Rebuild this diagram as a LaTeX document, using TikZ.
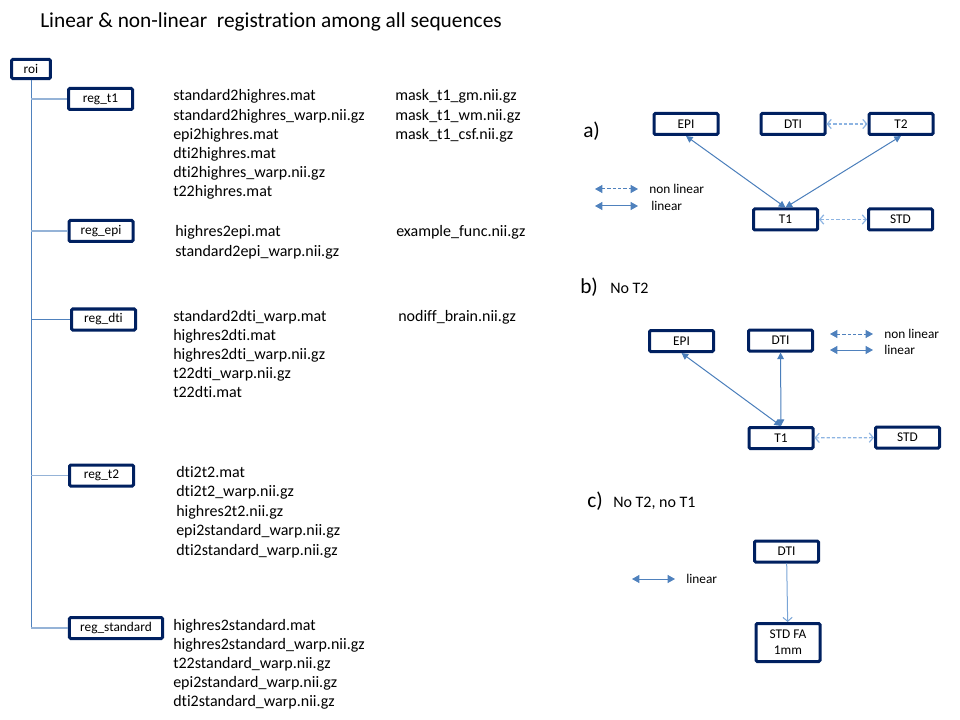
\documentclass[tikz,border=0pt]{standalone}
\usepackage{fontspec}
\setmainfont{Carlito}[Ligatures=NoCommon]
\usepackage{tikz}
\usetikzlibrary{arrows.meta, positioning}
\definecolor{navy}{RGB}{0,32,96}
\definecolor{linblue}{RGB}{74,126,187}
\definecolor{dashblue}{RGB}{141,180,226}
\definecolor{treeblue}{RGB}{79,129,189}
\definecolor{branchblue}{RGB}{149,179,215}
\tikzset{%
	box/.style={draw=navy, line width=2.25pt, rounded corners=1pt, inner sep=0pt,%
		minimum width=48pt, minimum height=15.75pt, font=\fontsize{10}{12}\selectfont},
	fname/.style={anchor=base west, inner sep=0pt, font=\fontsize{12}{14.5}\selectfont},
	legtext/.style={anchor=west, inner sep=0pt, font=\fontsize{10}{12}\selectfont},
	panel/.style={anchor=base west, inner sep=0pt, font=\fontsize{16}{19}\selectfont},
	subtitle/.style={anchor=base west, inner sep=0pt, font=\fontsize{12}{14.5}\selectfont},
	tree/.style={draw=treeblue, line width=0.75pt},
	branch/.style={draw=branchblue, line width=0.9pt},
	lin/.style={linblue, line width=0.75pt, {Triangle[length=5pt,width=5pt]}-{Triangle[length=5pt,width=5pt]}},
	nonlin/.style={dashblue, line width=0.9pt, dash pattern=on 2.5pt off 1.5pt,%
		{Straight Barb[length=3pt,width=7pt]}-{Straight Barb[length=3pt,width=7pt]}},
	leglin/.style={treeblue, line width=0.75pt, {Triangle[length=5.5pt,width=6pt]}-{Triangle[length=5.5pt,width=6pt]}},
	legnonlin/.style={leglin, dash pattern=on 2.5pt off 1.5pt}
}

\begin{document}
\begin{tikzpicture}[x=0.75pt, y=-0.75pt]
	\useasboundingbox (0,0) rectangle (960,720);

	\node[anchor=base west, inner sep=0pt, font=\fontsize{16}{19}\selectfont] (title) at (40,28)
		{Linear \& non-linear\ \ registration among all sequences};

	% folder tree
	\node[box, minimum width=29pt, minimum height=14.5pt] (roi) at (31,69) {roi};
	\node[box] (reg-t1)  at (100.5,99)  {reg\_t1};
	\node[box] (reg-epi) at (101,231)   {reg\_epi};
	\node[box] (reg-dti) at (103.5,319.5) {reg\_dti};
	\node[box] (reg-t2)  at (101.5,475.5) {reg\_t2};
	\node[box, minimum width=70pt] (reg-std) at (116,628) {reg\_standard};
	\draw[tree] (roi.south) -- (roi.south |- reg-std.west);
	\foreach \r in {reg-t1, reg-t2, reg-std}
		\draw[branch] (roi.south |- \r.west) -- (\r.west);
	\draw[branch, line width=1.6pt] (roi.south |- reg-epi.west) -- (reg-epi.west);
	\draw[tree] (roi.south |- reg-dti.west) -- (reg-dti.west);

	% file lists
	\foreach \f [count=\i from 0] in {standard2highres.mat, standard2highres\_warp.nii.gz,
		epi2highres.mat, dti2highres.mat, dti2highres\_warp.nii.gz, t22highres.mat}
		\node[fname] (t1-\i) at (173,101+19.1*\i) {\f};
	\foreach \f [count=\i from 0] in {mask\_t1\_gm.nii.gz, mask\_t1\_wm.nii.gz, mask\_t1\_csf.nii.gz}
		\node[fname] (t1m-\i) at (395,101+19.1*\i) {\f};
	\foreach \f [count=\i from 0] in {highres2epi.mat, standard2epi\_warp.nii.gz}
		\node[fname] (epi-\i) at (175,237+19.5*\i) {\f};
	\node[fname] (epim-0) at (396,237) {example\_func.nii.gz};
	\foreach \f [count=\i from 0] in {standard2dti\_warp.mat, highres2dti.mat,
		highres2dti\_warp.nii.gz, t22dti\_warp.nii.gz, t22dti.mat}
		\node[fname] (dti-\i) at (173,321+19*\i) {\f};
	\node[fname] (dtim-0) at (398,321) {nodiff\_brain.nii.gz};
	\foreach \f [count=\i from 0] in {dti2t2.mat, dti2t2\_warp.nii.gz, highres2t2.nii.gz,
		epi2standard\_warp.nii.gz, dti2standard\_warp.nii.gz}
		\node[fname] (t2-\i) at (176,477+19.5*\i) {\f};
	\foreach \f [count=\i from 0] in {highres2standard.mat, highres2standard\_warp.nii.gz,
		t22standard\_warp.nii.gz, epi2standard\_warp.nii.gz, dti2standard\_warp.nii.gz}
		\node[fname] (std-\i) at (173,630+19*\i) {\f};

	% a) all sequences
	\node[panel] (a-lab) at (583,138) {a)};
	\node[box] (a-epi) at (686,124)   {EPI};
	\node[box] (a-dti) at (793,124)   {DTI};
	\node[box] (a-t2)  at (901,124)   {T2};
	\node[box] (a-t1)  at (785.5,219.5) {T1};
	\node[box] (a-std) at (900.5,219.5) {STD};
	\draw[lin] (a-epi.south) -- (a-t1.north);
	\draw[lin] (a-t2.south) -- (a-t1.north);
	\draw[nonlin] (a-dti) -- (a-t2);
	\draw[nonlin] (a-t1) -- (a-std);
	\coordinate (a-nl1) at (595,189);
	\coordinate (a-nl2) at (638,189);
	\coordinate (a-l1)  at (595,206);
	\coordinate (a-l2)  at (638,206);
	\draw[legnonlin] (a-nl1) -- (a-nl2);
	\draw[leglin] (a-l1) -- (a-l2);
	\node[legtext] (a-nltext) at (649,189) {non linear};
	\node[legtext] (a-ltext)  at (651,206) {linear};

	% b) no T2
	\node[panel] (b-lab) at (580,293) {b)};
	\node[subtitle] (b-sub) at (610,293) {No T2};
	\node[box] (b-epi) at (681.5,341) {EPI};
	\node[box] (b-dti) at (780.5,340.5) {DTI};
	\node[box] (b-t1)  at (781,438)   {T1};
	\node[box] (b-std) at (907.5,437.5) {STD};
	\draw[lin] (b-epi.south) -- (b-t1.north);
	\draw[lin] (b-dti) -- (b-t1);
	\draw[nonlin] (b-t1) -- (b-std);
	\coordinate (b-nl1) at (830,334);
	\coordinate (b-nl2) at (873,334);
	\coordinate (b-l1)  at (830,350);
	\coordinate (b-l2)  at (873,350);
	\draw[legnonlin] (b-nl1) -- (b-nl2);
	\draw[leglin] (b-l1) -- (b-l2);
	\node[legtext] (b-nltext) at (884,334) {non linear};
	\node[legtext] (b-ltext)  at (884,350) {linear};

	% c) no T2, no T1
	\node[panel] (c-lab) at (587,507) {c)};
	\node[subtitle] (c-sub) at (613,507) {No T2, no T1};
	\node[box] (c-dti) at (786.5,551.5) {DTI};
	\node[box, minimum height=28.5pt, align=center] (c-std) at (788,642.5) {STD FA\\1mm};
	\draw[dashblue!70!linblue, line width=0.75pt, -{Straight Barb[length=3pt,width=7pt]}] (c-dti) -- (c-std);
	\coordinate (c-l1) at (632,579);
	\coordinate (c-l2) at (675,579);
	\draw[leglin] (c-l1) -- (c-l2);
	\node[legtext] (c-ltext) at (686,579) {linear};
\end{tikzpicture}
\end{document}
